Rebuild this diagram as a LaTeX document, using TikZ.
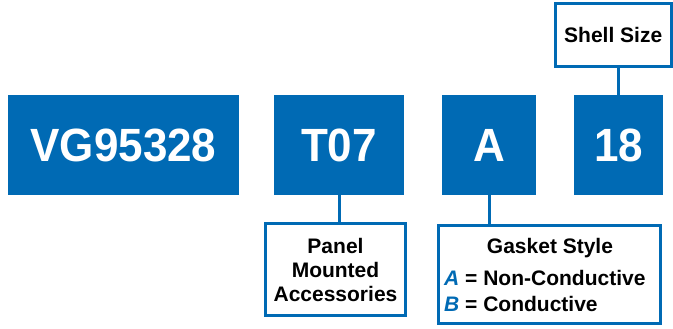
\documentclass[tikz,border=0pt]{standalone}
\usepackage{fontspec}
\setmainfont{Liberation Sans}
\definecolor{vgblue}{RGB}{0,106,180}
\begin{document}
\begin{tikzpicture}[x=1pt,y=-1pt,
  code/.style={fill=vgblue,draw=none,inner sep=0pt,text=white,
    font=\bfseries\fontsize{44}{44}\selectfont},
  label/.style={draw=vgblue,line width=3pt,fill=white,inner sep=0pt,
    font=\bfseries\fontsize{21}{24}\selectfont,align=center},
  ltext/.style={font=\bfseries\fontsize{21}{24}\selectfont,inner sep=0pt},
  link/.style={draw=vgblue,line width=3pt}]
\useasboundingbox (0,0) rectangle (673,329);
% code boxes
\node[code,minimum width=231pt,minimum height=100pt] (vg) at (123.5,145) {\scalebox{1}[1.06]{VG95328}};
\node[code,minimum width=130pt,minimum height=100pt] (t07) at (339,145) {\scalebox{1}[1.06]{T07}};
\node[code,minimum width=94pt,minimum height=100pt] (a) at (489,145) {\scalebox{1}[1.06]{A}};
\node[code,minimum width=89pt,minimum height=100pt] (s18) at (618.5,145) {\scalebox{1}[1.06]{18}};
% label boxes
\node[label,minimum width=140pt,minimum height=92pt] (panel) at (335.5,269.5) {Panel\\Mounted\\Accessories};
\node[label,minimum width=222pt,minimum height=98pt] (gasket) at (549.5,274.5) {};
\node[label,minimum width=115.5pt,minimum height=63.5pt] (shell) at (613.25,35.25) {Shell Size};
% gasket texts
\node[ltext] (gt) at (550,248) {Gasket Style};
\node[ltext,anchor=west] (ga) at (444,278) {\textcolor{vgblue}{\itshape A} = Non-Conductive};
\node[ltext,anchor=west] (gb) at (444,304) {\textcolor{vgblue}{\itshape B} = Conductive};
% connectors
\draw[link] (t07.south) -- (t07.south |- panel.north);
\draw[link] (a.south) -- (a.south |- gasket.north);
\draw[link] (s18.north) -- (s18.north |- shell.south);
\end{tikzpicture}
\end{document}
